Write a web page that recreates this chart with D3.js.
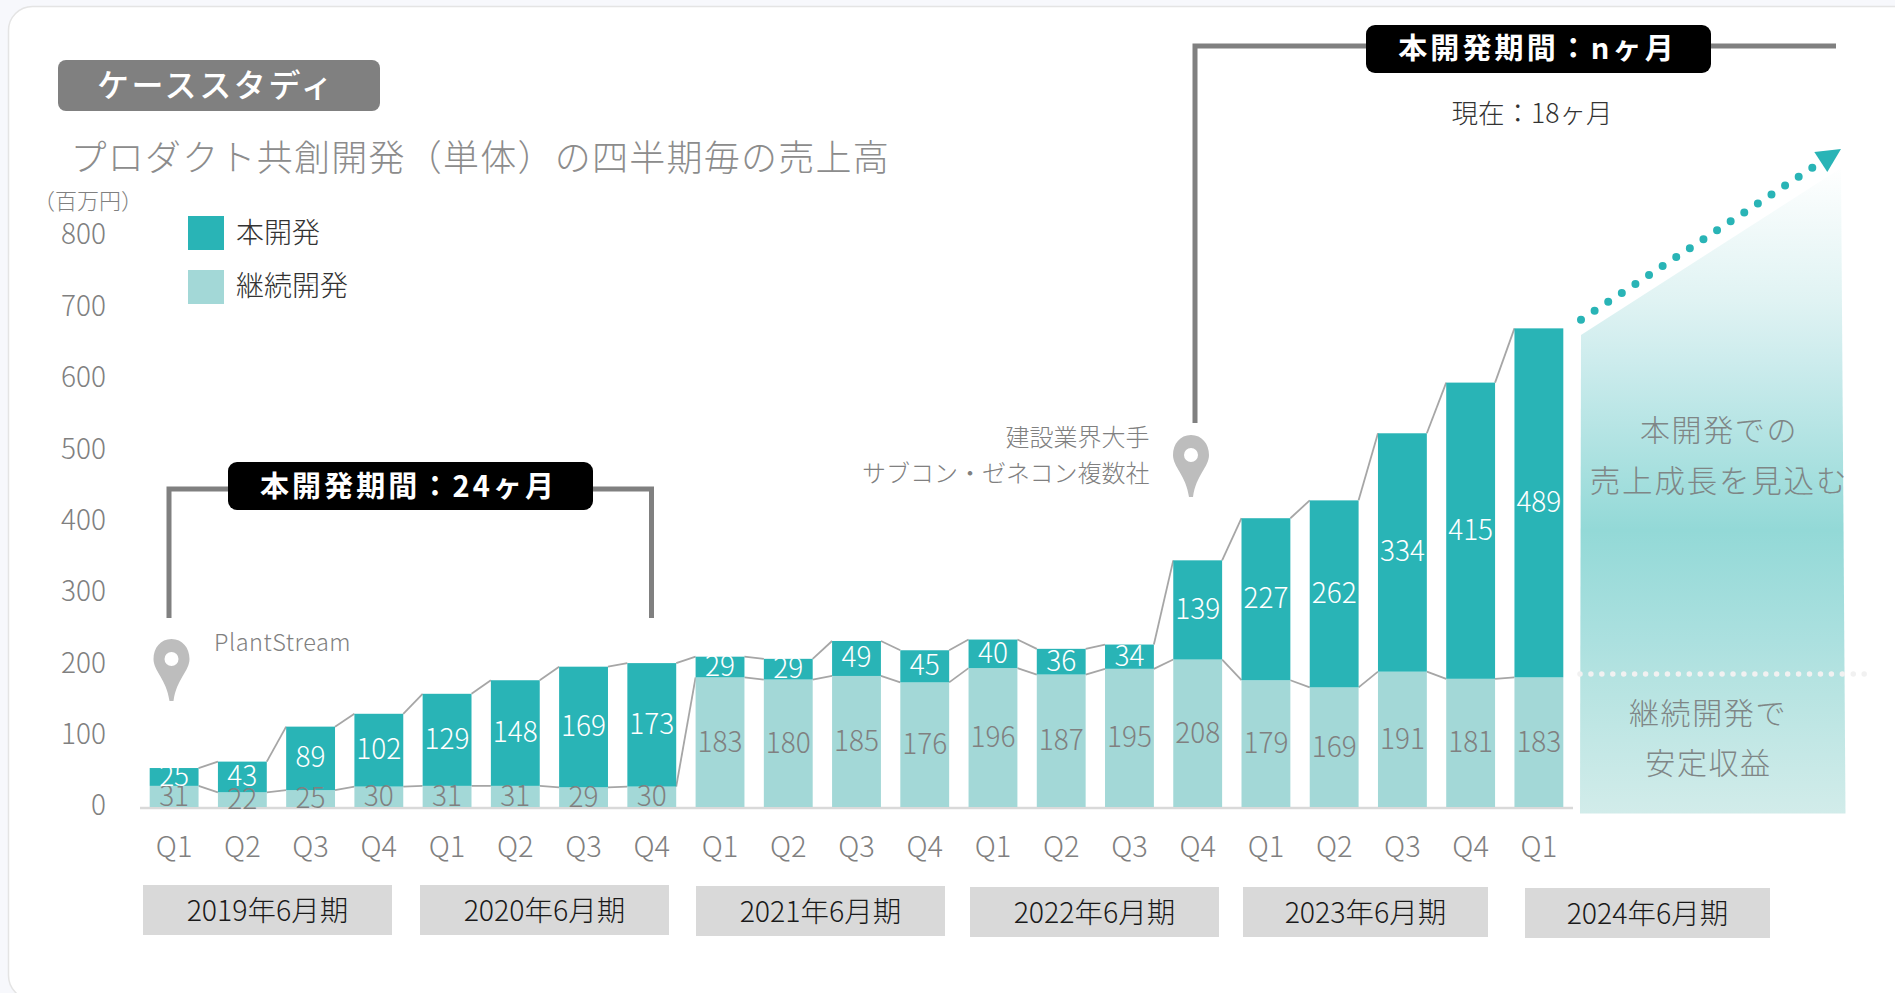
<!DOCTYPE html>
<html lang="ja"><head><meta charset="utf-8">
<script src="https://cdn.jsdelivr.net/npm/d3@7"></script>
<style>
html,body{margin:0;padding:0;background:#f7f8fc;overflow:hidden}
svg{display:block}
text{font-family:"Noto Sans CJK JP","Noto Sans",sans-serif;font-weight:300}
</style></head><body><svg id="c" width="1895" height="993"></svg>
<script>
const quarters=["Q1","Q2","Q3","Q4","Q1","Q2","Q3","Q4","Q1","Q2","Q3","Q4","Q1","Q2","Q3","Q4","Q1","Q2","Q3","Q4","Q1"];
const continuing=[31,22,25,30,31,31,29,30,183,180,185,176,196,187,195,208,179,169,191,181,183];
const mainDev=[25,43,89,102,129,148,169,173,29,29,49,45,40,36,34,139,227,262,334,415,489];
const yTicks=[0,100,200,300,400,500,600,700,800];
const yearLabels=["2019年6月期","2020年6月期","2021年6月期","2022年6月期","2023年6月期","2024年6月期"];
const yearBoxes=[[143,392,885],[420,669,885],[696,945,886],[970,1219,887],[1243,1488,887],[1525,1770,888]];
const legendItems=["本開発","継続開発"];

const MAIN="#29b4b6",LIGHT="#a3d8d7",GREY="#808080";
const svg=d3.select("#c");
const defs=svg.append("defs");
const gy0=165,gy1=815;
const grad=defs.append("linearGradient").attr("id","fc").attr("gradientUnits","userSpaceOnUse")
 .attr("x1",0).attr("x2",0).attr("y1",gy0).attr("y2",gy1);
[[165,"#ffffff"],[300,"#e0f3f3"],[360,"#cdeced"],[530,"#93d9d7"],[640,"#abe0df"],[680,"#b5e3e1"],[815,"#d2ecea"]]
 .forEach(s=>grad.append("stop").attr("offset",(s[0]-gy0)/(gy1-gy0)).attr("stop-color",s[1]));

// card
svg.append("rect").attr("x",8.5).attr("y",6.5).attr("width",1950).attr("height",993).attr("rx",24)
 .attr("fill","#fff").attr("stroke","#e4e4e4").attr("stroke-width",1.5);

const x=d3.scaleBand().domain(d3.range(quarters.length)).range([140,1573]).paddingInner(0.284).paddingOuter(0.142);
const y=d3.scaleLinear().domain([0,800]).range([808,237]);

// forecast area
svg.append("path").attr("d","M1581,335L1841,168L1845.5,813.5L1580,813.5Z").attr("fill","url(#fc)");
svg.append("line").attr("x1",1580).attr("x2",1866).attr("y1",674).attr("y2",674)
 .attr("stroke","#f1f1f1").attr("stroke-width",5.5).attr("stroke-linecap","round").attr("stroke-dasharray","0 10.93");
svg.append("line").attr("x1",1581).attr("y1",319.7).attr("x2",1812.3).attr("y2",167.7)
 .attr("stroke",MAIN).attr("stroke-width",8).attr("stroke-linecap","round").attr("stroke-dasharray","0 16.28");
svg.append("path").attr("d","M1814.3,152L1841,149L1827.3,172Z").attr("fill",MAIN);
[["本開発での",1719,428,30,1.6],["売上成長を見込む",1719,479,30.5,1.8],["継続開発で",1708,711,30,1.6],["安定収益",1708.5,761,30,1.6]].forEach(t=>
 svg.append("text").attr("x",t[1]).attr("y",t[2]).attr("text-anchor","middle").attr("dominant-baseline","central")
 .attr("font-size",t[3]).attr("letter-spacing",t[4]).attr("fill","#7f8686").text(t[0]));

// baseline
svg.append("line").attr("x1",140).attr("x2",1573).attr("y1",y(0)).attr("y2",y(0)).attr("stroke","#d9d9d9").attr("stroke-width",2.5);

// series lines
const seriesLine=d3.line();
const idx=d3.range(quarters.length-1);
const conn=(acc)=>svg.append("g").selectAll("path").data(idx).join("path")
 .attr("d",i=>seriesLine([[x(i)+x.bandwidth(),y(acc(i))],[x(i+1),y(acc(i+1))]]))
 .attr("fill","none").attr("stroke","#a6a6a6").attr("stroke-width",1.8);
conn(i=>continuing[i]);
conn(i=>continuing[i]+mainDev[i]);

// bars
svg.append("g").selectAll("rect").data(continuing).join("rect")
 .attr("x",(d,i)=>x(i)).attr("width",x.bandwidth()).attr("y",d=>y(d)).attr("height",d=>y(0)-y(d)-1).attr("fill",LIGHT);
svg.append("g").selectAll("rect").data(mainDev).join("rect")
 .attr("x",(d,i)=>x(i)).attr("width",x.bandwidth()).attr("y",(d,i)=>y(d+continuing[i])).attr("height",d=>y(0)-y(d)).attr("fill",MAIN);

// value labels
const lab=(data,fn,col)=>svg.append("g").selectAll("text").data(data).join("text")
 .attr("x",(d,i)=>x(i)+x.bandwidth()/2).attr("y",(d,i)=>fn(d,i)-3).attr("text-anchor","middle").attr("dominant-baseline","central")
 .attr("font-size",28).attr("fill",col).text(d=>d);
lab(continuing,d=>y(d/2),"#808080");
lab(mainDev,(d,i)=>y(continuing[i]+d/2),"#ffffff");

// axes
const yAxis=svg.append("g").attr("transform","translate(106,-2)").call(d3.axisLeft(y).tickValues(yTicks).tickSize(0).tickPadding(0));
yAxis.select(".domain").remove();
yAxis.selectAll("text").attr("font-size",28).attr("fill","#808080").attr("font-family",null);
const xAxis=svg.append("g").attr("transform","translate(0,836)").call(d3.axisBottom(x).tickFormat(i=>quarters[i]).tickSize(0).tickPadding(0));
xAxis.select(".domain").remove();
xAxis.selectAll("text").attr("font-size",29).attr("fill","#808080").attr("font-family",null);

// year boxes
const yg=svg.append("g").selectAll("g").data(yearLabels).join("g");
yg.append("rect").attr("x",(d,i)=>yearBoxes[i][0]).attr("y",(d,i)=>yearBoxes[i][2]).attr("width",(d,i)=>yearBoxes[i][1]-yearBoxes[i][0]).attr("height",50).attr("fill","#d9d9d9");
yg.append("text").attr("x",(d,i)=>(yearBoxes[i][0]+yearBoxes[i][1])/2).attr("y",(d,i)=>yearBoxes[i][2]+23).attr("text-anchor","middle").attr("dominant-baseline","central")
 .attr("font-size",28.5).attr("fill","#1a1a1a").text(d=>d);

// header
svg.append("rect").attr("x",58).attr("y",60).attr("width",322).attr("height",51).attr("rx",8).attr("fill",GREY);
svg.append("text").attr("x",97).attr("y",83).attr("dominant-baseline","central").attr("font-size",32).attr("letter-spacing",2.6).attr("fill","#fff").style("font-weight",500).text("ケーススタディ");
svg.append("text").attr("x",70.5).attr("y",155).attr("dominant-baseline","central").attr("font-size",36).attr("letter-spacing",1.25).attr("fill","#8c8c8c").text("プロダクト共創開発（単体）の四半期毎の売上高");
svg.append("text").attr("x",33).attr("y",199).attr("dominant-baseline","central").attr("font-size",22).attr("fill","#808080").text("（百万円）");

// legend
const lg=svg.append("g").selectAll("g").data(legendItems).join("g");
lg.append("rect").attr("x",188).attr("y",(d,i)=>216+i*54).attr("width",36).attr("height",34).attr("fill",(d,i)=>i?LIGHT:MAIN);
lg.append("text").attr("x",236).attr("y",(d,i)=>231+i*53).attr("dominant-baseline","central").attr("font-size",28).attr("fill","#333").text(d=>d);

// brackets
const bracket=(pts)=>svg.append("path").attr("d",d3.line()(pts)).attr("fill","none").attr("stroke",GREY).attr("stroke-width",5);
bracket([[169,618],[169,489],[651.5,489],[651.5,618]]);
bracket([[1195,423],[1195,46],[1836,46]]);
const tag=(x0,x1,y0,y1,s,sp,dx,dy)=>{svg.append("rect").attr("x",x0).attr("y",y0).attr("width",x1-x0).attr("height",y1-y0).attr("rx",9).attr("fill","#000");
 svg.append("text").attr("x",(x0+x1)/2+dx).attr("y",(y0+y1)/2+dy).attr("text-anchor","middle").attr("dominant-baseline","central").attr("font-size",29).attr("letter-spacing",sp).attr("fill","#fff").style("font-weight",700).text(s);};
tag(228,593,462,510,"本開発期間：24ヶ月",3.1,-2,-2);
tag(1366,1711,25,73,"本開発期間：nヶ月",3.1,-1,-3);
svg.append("text").attr("x",1532).attr("y",111).attr("text-anchor","middle").attr("dominant-baseline","central").attr("font-size",26.5).attr("fill","#333").text("現在：18ヶ月");

// pins
const pin=(cx,top)=>{svg.append("path").attr("transform",`translate(${cx},${top})`).attr("fill-rule","evenodd").attr("fill","#bdbdbd")
 .attr("d","M0,0C11,0 18,9 18,20C18,32 5,40 2,62L-2,62C-5,40 -18,32 -18,20C-18,9 -11,0 0,0ZM0,13A7,7 0 1 0 0,27A7,7 0 1 0 0,13Z");};
pin(171.5,639);pin(1191,435);
svg.append("text").attr("x",214).attr("y",641).attr("dominant-baseline","central").attr("font-size",23.5).attr("letter-spacing",.5).attr("fill","#808080").text("PlantStream");
[["建設業界大手",435],["サブコン・ゼネコン複数社",471]].forEach(t=>svg.append("text").attr("x",1149.5).attr("y",t[1]).attr("text-anchor","end").attr("dominant-baseline","central").attr("font-size",24).attr("fill","#808080").text(t[0]));
</script></body></html>
